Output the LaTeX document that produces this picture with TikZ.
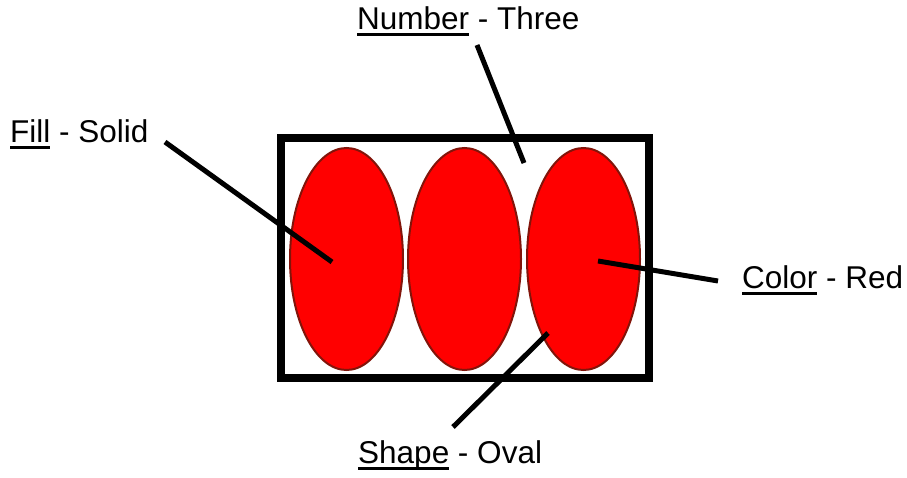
\documentclass[tikz,border=0pt]{standalone}
\usepackage{fontspec}
\setmainfont{Liberation Sans}
\usetikzlibrary{shapes.geometric}
\newcommand\myul[1]{\setbox0\hbox{#1}\rlap{\rule[-6.5pt]{\wd0}{3pt}}\box0\relax}
\begin{document}
\begin{tikzpicture}[x=1pt,y=-1pt,
  lbl/.style={anchor=base west,inner sep=0pt,font=\fontsize{31.5}{36}\selectfont},
  oval/.style={ellipse,minimum width=113pt,minimum height=222pt,inner sep=0pt,fill={rgb,255:red,255;green,0;blue,0},draw={rgb,255:red,130;green,20;blue,10},line width=2pt},
  leader/.style={line width=5pt,black},
  frame/.style={draw=black,line width=8pt}]
\useasboundingbox (0,0) rectangle (907,477);
\node[frame,minimum width=368pt,minimum height=240pt,inner sep=0pt] (box) at (465,258) {};
\node[oval] (o1) at (346.5,259) {};
\node[oval] (o2) at (464.5,259) {};
\node[oval] (o3) at (583.5,259) {};
\node[lbl] (fill) at (10,142) {\myul{Fill} - Solid};
\node[lbl] (num) at (357,29) {\myul{Number} - Three};
\node[lbl] (col) at (742,288) {\myul{Color} - Red};
\node[lbl] (shp) at (358,463) {\myul{Shape} - Oval};
\coordinate (fa) at (165,142);
\coordinate (fb) at (332,262);
\coordinate (na) at (477,45);
\coordinate (nb) at (524,163);
\coordinate (ca) at (718,281);
\coordinate (cb) at (598,261);
\coordinate (sa) at (453,427);
\coordinate (sb) at (548,333);
\draw[leader] (fa) -- (fb);
\draw[leader] (na) -- (nb);
\draw[leader] (ca) -- (cb);
\draw[leader] (sa) -- (sb);
\end{tikzpicture}
\end{document}
